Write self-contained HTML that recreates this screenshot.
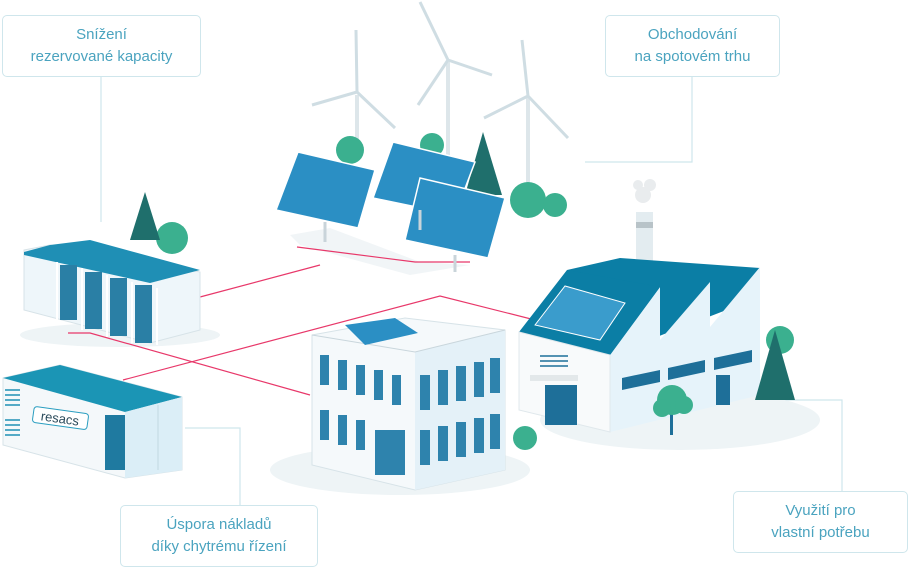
<!DOCTYPE html>
<html><head><meta charset="utf-8"><style>
body{margin:0;width:909px;height:568px;background:#fff;overflow:hidden;font-family:"Liberation Sans",sans-serif}
.b{position:absolute;border:1px solid #cfe6ec;border-radius:5px;background:#fff;color:#4aa3bf;font-size:15px;line-height:22px;text-align:center;box-sizing:border-box;padding-top:8px}
</style></head><body>
<svg width="909" height="568" style="position:absolute;left:0;top:0">
<g stroke="#cfe6ec" fill="none" stroke-width="1.2">
<path d="M101 77V222"/><path d="M692 77V162H585"/><path d="M240 505V428H185"/><path d="M842 491V400H770"/>
</g>
<ellipse cx="120" cy="335" rx="100" ry="12" fill="#eef4f6"/>
<ellipse cx="400" cy="470" rx="130" ry="25" fill="#eef4f6"/>
<ellipse cx="680" cy="420" rx="140" ry="30" fill="#eef4f6"/>
<path d="M290 235L330 228L420 262L470 265L410 275L300 245Z" fill="#f1f5f7"/>
<g stroke="#e8386a" fill="none" stroke-width="1.2">
<path d="M297 247L415 262L470 262"/><path d="M200 297L320 265"/><path d="M68 333H90L310 395"/><path d="M123 380L440 296L535 320"/>
</g>
<g stroke="#dde6ea" stroke-width="4" fill="none">
<path d="M357 95V150"/><path d="M448 62V160"/><path d="M528 98V190"/>
</g>
<g stroke="#cfdde3" stroke-width="3">
<path d="M357 92L356 30M357 92L312 105M357 92L395 128"/>
<path d="M448 60L420 2M448 60L418 105M448 60L492 75"/>
<path d="M528 96L522 40M528 96L484 118M528 96L568 138"/>
</g>
<g fill="#3bb08f"><circle cx="350" cy="150" r="14"/><circle cx="432" cy="145" r="12"/><circle cx="528" cy="200" r="18"/><circle cx="555" cy="205" r="12"/><circle cx="172" cy="238" r="16"/><circle cx="525" cy="438" r="12"/><circle cx="780" cy="340" r="14"/></g>
<g fill="#1f6f6c"><path d="M145 192L130 240H160Z"/><path d="M483 132L465 195H502Z"/></g>
<g fill="#2b8fc4" stroke="#fff" stroke-width="1.5">
<path d="M298 152L375 170L358 228L276 210Z"/><path d="M393 142L475 162L455 215L373 198Z"/><path d="M420 178L505 198L488 258L405 240Z"/>
</g>
<g stroke="#c9d4da" stroke-width="3"><path d="M325 222V242M455 255V272M420 210V230"/></g>
<path d="M24 250L50 245L200 272V330L150 343L24 310Z" fill="#eef6fa" stroke="#d7e3e8"/>
<path d="M24 252L50 245L90 240L200 270L150 283L24 255Z" fill="#1f8fb5"/>
<g fill="#2a7fa5"><path d="M60 265h17v55h-17z"/><path d="M85 272h17v57h-17z"/><path d="M110 278h17v58h-17z"/><path d="M135 285h17v58h-17z"/></g>
<g stroke="#fff" stroke-width="2"><path d="M57 262V322M82 268V330M107 275V337M132 282V343M157 288V345"/></g>
<path d="M3 378L60 365L182 397V470L125 478L3 445Z" fill="#f4f8fa" stroke="#d7e3e8"/>
<path d="M3 378L60 365L182 397L125 412Z" fill="#1b95b5"/>
<path d="M125 412L182 397V470L125 478Z" fill="#dbeef7"/>
<path d="M158 405V470" stroke="#c0d8e2"/>
<rect x="33" y="410" width="55" height="16" rx="3" fill="#fff" stroke="#2a9ec0" transform="rotate(8 60 418)"/>
<text x="60" y="423" font-size="13" fill="#2a4a5a" text-anchor="middle" transform="rotate(8 60 418)">resacs</text>
<rect x="105" y="415" width="20" height="55" fill="#1f7aa0"/>
<g stroke="#1f8fb5" stroke-width="1.5"><path d="M5 390h15M5 395h15M5 400h15M5 405h15M5 420h15M5 425h15M5 430h15M5 435h15"/></g>
<path d="M312 335L405 318L505 330V470L415 490L312 465Z" fill="#f5f9fb" stroke="#d7e3e8"/>
<path d="M415 352L505 330V470L415 490Z" fill="#e4f1f8"/>
<path d="M312 335L415 352L505 330" fill="none" stroke="#c9d6dc"/>
<g fill="#2e83ad">
<rect x="320" y="355" width="9" height="30"/><rect x="338" y="360" width="9" height="30"/><rect x="356" y="365" width="9" height="30"/><rect x="374" y="370" width="9" height="30"/><rect x="392" y="375" width="9" height="30"/>
<rect x="320" y="410" width="9" height="30"/><rect x="338" y="415" width="9" height="30"/><rect x="356" y="420" width="9" height="30"/><rect x="375" y="430" width="30" height="45"/>
<rect x="420" y="375" width="10" height="35"/><rect x="438" y="370" width="10" height="35"/><rect x="456" y="366" width="10" height="35"/><rect x="474" y="362" width="10" height="35"/><rect x="490" y="358" width="10" height="35"/>
<rect x="420" y="430" width="10" height="35"/><rect x="438" y="426" width="10" height="35"/><rect x="456" y="422" width="10" height="35"/><rect x="474" y="418" width="10" height="35"/><rect x="490" y="414" width="10" height="35"/>
</g>
<path d="M345 325L395 318L418 333L365 345Z" fill="#2b8fc4"/>
<rect x="636" y="212" width="17" height="60" fill="#e3ecf0"/><rect x="636" y="222" width="17" height="6" fill="#b8c3c8"/>
<g fill="#e9ecee"><circle cx="643" cy="195" r="8"/><circle cx="650" cy="185" r="6"/><circle cx="638" cy="185" r="5"/></g>
<path d="M567 270L620 258L760 268L760 297L610 355Z" fill="#0b7ea5"/>
<path d="M610 355L660 287V340L710 282V327L760 267V395L610 432Z" fill="#e6f3fa"/>
<path d="M519 332L567 270L660 287L610 355Z" fill="#0b7ea5"/>
<path d="M519 332L610 355V432L519 410Z" fill="#f8fafb" stroke="#e0e8ec"/>
<path d="M535 325L565 286L625 303L600 340Z" fill="#3a9ccc" stroke="#fff"/>
<rect x="545" y="385" width="32" height="40" fill="#1e6f99"/><rect x="530" y="375" width="48" height="6" fill="#e3e8ea"/>
<g stroke="#1e6f99" stroke-width="1.5"><path d="M540 356h28M540 361h28M540 366h28"/></g>
<g fill="#1e6f99"><path d="M622 378L660 370V382L622 390Z"/><path d="M668 368L705 360V372L668 380Z"/><path d="M714 358L752 350V362L714 370Z"/><rect x="716" y="375" width="14" height="30"/></g>
<rect x="670" y="405" width="3" height="30" fill="#1e6f99"/>
<g fill="#3bb08f"><circle cx="672" cy="400" r="15"/><circle cx="662" cy="408" r="9"/><circle cx="684" cy="405" r="9"/></g>
<path d="M775 330L755 400H795Z" fill="#1f6f6c"/>
</svg>
<div class="b" style="left:2px;top:15px;width:199px;height:62px">Snížení<br>rezervované kapacity</div>
<div class="b" style="left:605px;top:15px;width:175px;height:62px">Obchodování<br>na spotovém trhu</div>
<div class="b" style="left:120px;top:505px;width:198px;height:62px">Úspora nákladů<br>díky chytrému řízení</div>
<div class="b" style="left:733px;top:491px;width:175px;height:62px">Využití pro<br>vlastní potřebu</div>
</body></html>
